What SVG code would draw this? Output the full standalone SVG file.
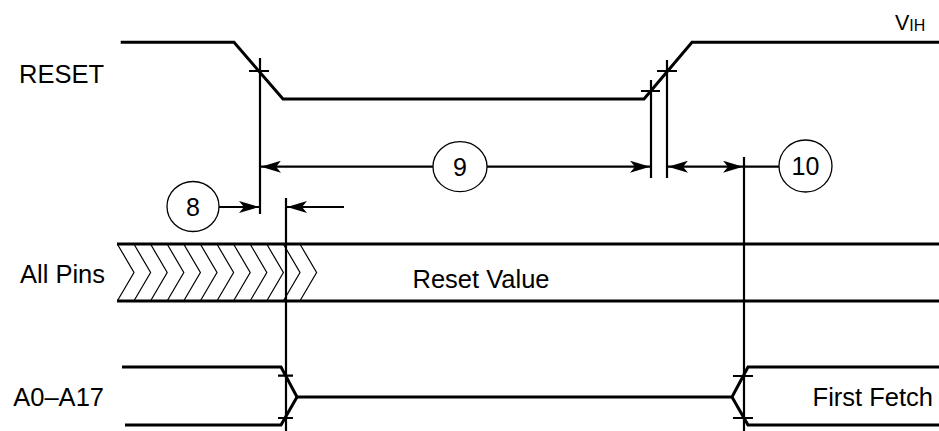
<svg xmlns="http://www.w3.org/2000/svg" width="939" height="431" viewBox="0 0 939 431">
<style>
text{font-family:"Liberation Sans",Arial,sans-serif;fill:#000}
.lbl{font-size:25.5px}
.num{font-size:25px;text-anchor:middle}
.sig{fill:none;stroke:#000;stroke-width:3}
.ln{fill:none;stroke:#000;stroke-width:2.2}
.thin{fill:none;stroke:#000;stroke-width:1.2}
.circ{fill:#fff;stroke:#000;stroke-width:1.3}
</style>
<defs>
<marker id="ah" viewBox="0 0 20 12" refX="20" refY="6" markerWidth="20" markerHeight="12" markerUnits="userSpaceOnUse" orient="auto-start-reverse">
<path d="M0 0 L20 6 L0 12 L5 6 Z" fill="#000"/>
</marker>
</defs>
<rect width="939" height="431" fill="#fff"/>
<g id="labels">
<text class="lbl" x="104" y="83" text-anchor="end">RESET</text>
<text class="lbl" x="105" y="283" text-anchor="end">All Pins</text>
<text class="lbl" x="104" y="406" text-anchor="end">A0–A17</text>
<text x="895" y="29.5" style="font-size:21.5px">V<tspan dy="1.5" style="font-size:16px">IH</tspan></text>
</g>
<g id="reset">
<path class="sig" d="M120.7 42.3 H234 L283 99 H644 L692 42.3 H939"/>
</g>
<g id="allpins">
<path class="sig" d="M117 244 H939 M117 301 H939"/>
<path class="thin" d="M117.3 244 L134 272.5 L117.3 301 M133.9 244 L150.6 272.5 L133.9 301 M150.5 244 L167.2 272.5 L150.5 301 M167.1 244 L183.8 272.5 L167.1 301 M183.7 244 L200.4 272.5 L183.7 301 M200.3 244 L217 272.5 L200.3 301 M216.9 244 L233.6 272.5 L216.9 301 M233.5 244 L250.2 272.5 L233.5 301 M250.1 244 L266.8 272.5 L250.1 301 M266.7 244 L283.4 272.5 L266.7 301 M283.3 244 L300 272.5 L283.3 301 M299.9 244 L316.6 272.5 L299.9 301"/>
<text class="lbl" x="412.5" y="287.5">Reset Value</text>
</g>
<g id="address">
<path class="sig" d="M122 367 H281 L297 397 H732 L748 367 H939"/>
<path class="sig" d="M125 425 H281 L297 397 M732 397 L748 425 H939"/>
<text class="lbl" x="933" y="406" text-anchor="end">First Fetch</text>
</g>
<g id="connectors">
<path class="ln" d="M260 58 V214 M651 80 V178 M667 60 V178 M286 198 V431 M744 157 V431"/>
<path class="ln" d="M249 71 H269 M641 91 H660 M657 71 H677 M278 375.7 H293 M278 418 H293 M733 376 H753 M733 418 H753"/>
<line class="ln" x1="433" y1="166.7" x2="261" y2="166.7" marker-end="url(#ah)"/>
<line class="ln" x1="487" y1="166.7" x2="650" y2="166.7" marker-end="url(#ah)"/>
<line class="ln" x1="668" y1="166.7" x2="743" y2="166.7" marker-start="url(#ah)" marker-end="url(#ah)"/>
<line class="ln" x1="744" y1="166.7" x2="779" y2="166.7"/>
<line class="ln" x1="219" y1="207" x2="259" y2="207" marker-end="url(#ah)"/>
<line class="ln" x1="344" y1="207" x2="287" y2="207" marker-end="url(#ah)"/>
</g>
<g id="n8">
<ellipse class="circ" cx="193" cy="206.5" rx="26" ry="25"/>
<text class="num" x="193" y="215.5">8</text>
</g>
<g id="n9">
<ellipse class="circ" cx="460" cy="166.7" rx="27" ry="25"/>
<text class="num" x="460" y="175.7">9</text>
</g>
<g id="n10">
<ellipse class="circ" cx="805.5" cy="166" rx="26.5" ry="26"/>
<text class="num" x="805.5" y="175">10</text>
</g>
</svg>
